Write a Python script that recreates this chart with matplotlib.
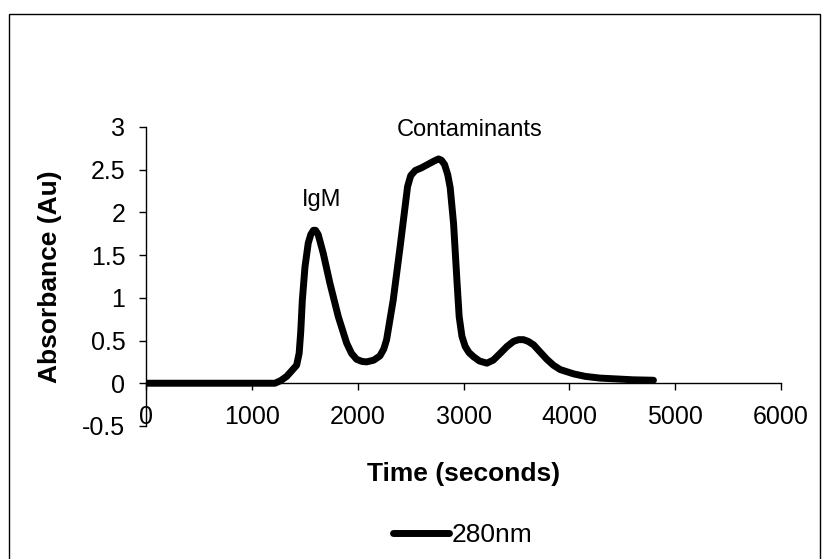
import matplotlib
matplotlib.use('Agg')
import matplotlib.pyplot as plt
from matplotlib.patches import Rectangle

# chromatogram, time in seconds and absorbance in Au
time_s = [0, 400, 800, 1216, 1270, 1327, 1421, 1445, 1460, 1475, 1500, 1531,
          1555, 1580, 1600, 1625, 1673, 1736, 1815, 1894, 1940, 1988, 2040,
          2083, 2150, 2209, 2245, 2272, 2334, 2400, 2440, 2470, 2500, 2543,
          2600, 2660, 2720, 2763, 2790, 2820, 2850, 2873, 2905, 2937, 2958,
          2984, 3015, 3050, 3094, 3150, 3220, 3280, 3346, 3410, 3472, 3520,
          3566, 3610, 3661, 3720, 3787, 3850, 3913, 4039, 4150, 4291, 4450,
          4606, 4795]
absorbance = [0, 0, 0, 0, 0.03, 0.08, 0.21, 0.35, 0.6, 0.97, 1.36, 1.64,
              1.74, 1.79, 1.79, 1.74, 1.52, 1.17, 0.78, 0.47, 0.35, 0.28, 0.255,
              0.25, 0.27, 0.32, 0.4, 0.51, 0.97, 1.6, 2.0, 2.3, 2.43, 2.49,
              2.52, 2.56, 2.6, 2.625, 2.61, 2.56, 2.44, 2.29, 1.87, 1.2, 0.78,
              0.55, 0.43, 0.36, 0.31, 0.26, 0.235, 0.27, 0.35, 0.43, 0.49, 0.51,
              0.51, 0.49, 0.45, 0.37, 0.28, 0.21, 0.16, 0.11, 0.08, 0.06, 0.05,
              0.04, 0.035]
x_ticks = [0, 1000, 2000, 3000, 4000, 5000, 6000]
y_ticks = [-0.5, 0, 0.5, 1, 1.5, 2, 2.5, 3]
y_tick_labels = ['-0.5', '0', '0.5', '1', '1.5', '2', '2.5', '3']
series_name = '280nm'
peak_labels = ['IgM', 'Contaminants']
peak_pos = [(1654, 2.14), (3053, 2.96)]

plt.rcParams['font.family'] = ['Liberation Sans', 'DejaVu Sans']

fig = plt.figure(figsize=(8.22, 5.59), dpi=100)
ax = fig.add_axes([0.178, 0.238, 0.772, 0.535])

ax.plot(time_s, absorbance, color='black', linewidth=5,
        solid_capstyle='round', solid_joinstyle='round', label=series_name)

ax.set_xlim(0, 6000)
ax.set_ylim(-0.5, 3)
ax.set_xticks(x_ticks)
ax.set_yticks(y_ticks)
ax.set_yticklabels(y_tick_labels)

ax.spines['top'].set_visible(False)
ax.spines['right'].set_visible(False)
ax.spines['bottom'].set_position(('data', 0))
ax.spines['bottom'].set_linewidth(1)
ax.spines['left'].set_linewidth(1)

ax.tick_params(axis='x', direction='out', length=5, width=1, pad=11, labelsize=18)
ax.tick_params(axis='y', direction='out', length=5, width=1, pad=10, labelsize=18)

ax.set_xlabel('Time (seconds)', fontsize=19, fontweight='bold')
ax.set_ylabel('Absorbance (Au)', fontsize=19, fontweight='bold')
ax.xaxis.set_label_coords(0.5, -0.12)
ax.yaxis.set_label_coords(-0.133, 0.5)

for name, (px, py) in zip(peak_labels, peak_pos):
  ax.text(px, py, name, fontsize=17, ha='center', va='center')

fig.legend(loc='center', bbox_to_anchor=(0.563, 0.043), frameon=False,
           fontsize=19, handlelength=2.1, handletextpad=0.1)

# outer frame around the whole chart
fig.patches.append(Rectangle((0.011, -0.01), 0.986, 0.985, transform=fig.transFigure,
                             fill=False, edgecolor='black', linewidth=1))

fig.savefig('out.png', dpi=100)
